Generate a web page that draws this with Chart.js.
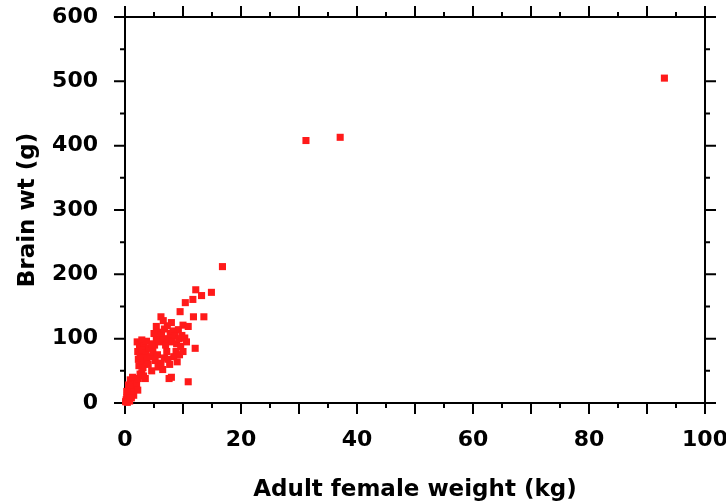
<!DOCTYPE html>
<html>
<head>
<meta charset="utf-8">
<script src="https://cdn.jsdelivr.net/npm/chart.js@4.4.0/dist/chart.umd.min.js"></script>
<style>
  html, body { margin: 0; padding: 0; background: #fff; }
  #wrap { width: 726px; height: 504px; }
</style>
</head>
<body>
<div id="wrap"><canvas id="chart"></canvas></div>
<script>
// adult female body weight (kg) and brain weight (g)
const femaleWeight = [
  93.0, 37.1, 31.2, 16.8,
  12.2, 14.9, 13.2, 11.7, 10.4, 9.5, 6.2, 11.8, 13.6, 10.0, 5.4, 9.2, 10.9, 12.1, 10.9, 7.6, 8.0,
  2.1, 2.5, 2.9, 3.3, 2.2, 2.6, 3.0, 3.6, 2.3, 2.8, 3.2, 3.8, 2.4, 3.1, 4.0, 4.4, 4.2, 4.8, 5.1,
  5.4, 5.8, 6.3, 6.0, 6.6, 5.6, 5.2, 5.7, 6.2, 6.8, 7.2, 7.0, 7.5, 7.8, 8.3, 8.6, 8.1, 8.9, 9.3,
  9.8, 10.3, 10.6, 9.6, 8.8, 8.4, 9.0, 7.7, 7.4, 6.5, 4.6, 10.0, 9.4, 6.8, 7.3, 4.6, 3.7, 5.0,
  8.0, 6.6,
  0.1, 0.2, 0.3, 0.5, 0.4, 0.6, 0.8, 0.7, 1.0, 1.2, 1.0, 1.4, 1.6, 1.8, 0.9, 1.3, 2.0, 2.3, 2.6,
  1.5, 1.1, 0.3, 0.6, 2.9, 3.2, 3.5, 2.2, 0.4, 0.8
];
const brainWeight = [
  505, 413, 408, 212,
  176, 172, 167, 161, 156, 142, 134, 134, 134, 121, 119, 114, 119, 85, 33, 38, 40,
  95, 90, 98, 88, 80, 75, 82, 78, 68, 62, 70, 66, 58, 55, 60, 72, 85, 80, 90,
  100, 110, 105, 95, 98, 75, 66, 56, 62, 70, 80, 90, 100, 108, 112, 104, 95, 92, 100,
  105, 101, 95, 88, 80, 72, 64, 60, 68, 52, 50, 80, 75, 115, 120, 92, 96, 108,
  125, 128,
  2, 5, 8, 4, 12, 15, 10, 20, 18, 25, 30, 22, 28, 35, 36, 40, 30, 38, 45,
  12, 8, 18, 28, 47, 42, 38, 20, 1, 3
];
const xRange = [0, 100];
const yRange = [0, 600];
const xLabelStep = 20;
const yLabelStep = 100;

const points = femaleWeight.map((w, i) => ({ x: w, y: brainWeight[i] }));

// frame on all four sides with outward ticks, long ones at majors
const frameTicks = {
  id: 'frameTicks',
  beforeDatasetsDraw(chart) {
    const { ctx, chartArea: a, scales: { x, y } } = chart;
    ctx.save();
    ctx.strokeStyle = '#000';
    ctx.lineWidth = 2;
    ctx.beginPath();
    ctx.rect(a.left, a.top, a.right - a.left, a.bottom - a.top);
    for (let v = xRange[0]; v <= xRange[1]; v += 5) {
      const px = x.getPixelForValue(v);
      const len = v % 10 === 0 ? 11 : 5;
      ctx.moveTo(px, a.bottom); ctx.lineTo(px, a.bottom + len);
      ctx.moveTo(px, a.top); ctx.lineTo(px, a.top - len);
    }
    for (let v = yRange[0]; v <= yRange[1]; v += 50) {
      const py = y.getPixelForValue(v);
      const len = v % 100 === 0 ? 11 : 5;
      ctx.moveTo(a.left, py); ctx.lineTo(a.left - len, py);
      ctx.moveTo(a.right, py); ctx.lineTo(a.right + len, py);
    }
    ctx.stroke();
    ctx.restore();
  }
};

const tickFont = { family: 'DejaVu Sans', weight: 'bold', size: 22 };
const titleFont = { family: 'DejaVu Sans', weight: 'bold', size: 23 };

new Chart(document.getElementById('chart'), {
  type: 'scatter',
  data: {
    datasets: [{
      data: points,
      pointStyle: 'rect',
      radius: 5,
      borderWidth: 0,
      backgroundColor: '#ff1a1a',
      clip: false
    }]
  },
  options: {
    responsive: true,
    maintainAspectRatio: false,
    animation: false,
    layout: { padding: { top: 17, right: 21, left: 0, bottom: 0 } },
    plugins: { legend: { display: false }, tooltip: { enabled: false } },
    scales: {
      x: {
        type: 'linear',
        min: xRange[0],
        max: xRange[1],
        afterFit: s => { s.height = 101; s.paddingLeft = 0; s.paddingRight = 0; },
        grid: { display: false, drawTicks: false },
        border: { display: false },
        ticks: { stepSize: xLabelStep, padding: 24, color: '#000', font: tickFont, maxRotation: 0 },
        title: { display: true, text: 'Adult female weight (kg)', color: '#000', font: titleFont, padding: { top: 0, bottom: 0 } }
      },
      y: {
        type: 'linear',
        min: yRange[0],
        max: yRange[1],
        afterFit: s => { s.width = 125; s.paddingTop = 0; s.paddingBottom = 0; },
        grid: { display: false, drawTicks: false },
        border: { display: false },
        ticks: { stepSize: yLabelStep, padding: 27, color: '#000', font: tickFont },
        title: { display: true, text: 'Brain wt (g)', color: '#000', font: titleFont, padding: { top: 14, bottom: 0 } }
      }
    }
  },
  plugins: [frameTicks]
});
</script>
</body>
</html>
